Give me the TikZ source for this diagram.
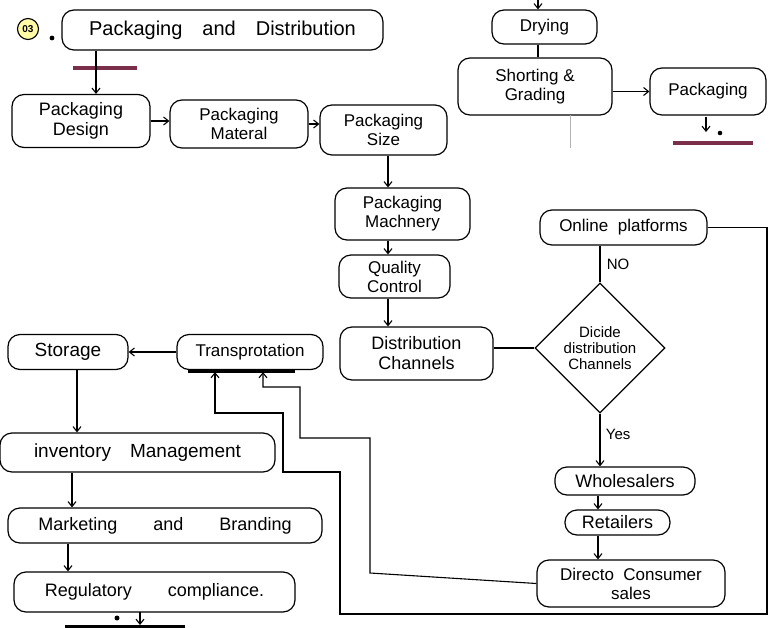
\documentclass[tikz,border=0pt]{standalone}
\usepackage{fontspec}
\setmainfont{Liberation Sans}
\usetikzlibrary{shapes.geometric,arrows.meta}
\definecolor{maroon}{HTML}{7A2E4A}
\newcommand\myfs[2]{\fontsize{#1}{#2}\selectfont}
\begin{document}
\begin{tikzpicture}[x=1pt,y=-1pt,
 box/.style={draw,line width=1.2pt,rounded corners=12pt,align=center,inner sep=1pt,font=\myfs{17}{19}},
 arr/.style={-{Straight Barb[length=5pt,width=8pt]},line width=1.1pt},
 ln/.style={line width=1.1pt},
 lbl/.style={font=\myfs{15}{17}}]
\useasboundingbox (0,0) rectangle (777,627);
% number
\node[circle,draw,line width=1.1pt,fill=yellow!35,inner sep=1pt,minimum size=21,font=\bfseries\myfs{10}{11}] (num) at (28,29) {03};
\fill (52,38) circle (2.4);
% nodes
\node[box,minimum width=321,minimum height=40,font=\myfs{20}{22}] (title) at (222.5,30) {Packaging\quad and\quad Distribution};
\node[box,minimum width=138,minimum height=53,font=\myfs{18}{20}] (pd) at (81,121) {Packaging\\Design};
\node[box,minimum width=138,minimum height=48] (pm) at (239,124) {Packaging\\Materal};
\node[box,minimum width=127,minimum height=50] (ps) at (383.5,130) {Packaging\\Size};
\node[box,minimum width=135,minimum height=52] (mach) at (402.5,214) {Packaging\\Machnery};
\node[box,minimum width=111,minimum height=43] (qc) at (394.5,276.5) {Quality\\Control};
\node[box,minimum width=153,minimum height=53,font=\myfs{18}{20}] (dc) at (416.5,353.5) {Distribution\\Channels};
\node[diamond,draw,line width=1.2pt,minimum width=130,minimum height=130,aspect=1,inner sep=0pt,align=center,font=\myfs{15}{16}] (dec) at (600,348) {Dicide\\distribution\\Channels};
\node[box,minimum width=167,minimum height=35] (online) at (623.5,227.5) {Online\ \ platforms};
\node[box,minimum width=146,minimum height=35,font=\myfs{17}{19}] (trans) at (250,352) {Transprotation};
\node[box,minimum width=120,minimum height=35,font=\myfs{19}{21}] (stor) at (68,352) {Storage};
\node[box,minimum width=275,minimum height=39,font=\myfs{19}{21}] (inv) at (137.5,452.5) {inventory\quad Management};
\node[box,minimum width=314,minimum height=35,font=\myfs{18}{20}] (mb) at (165,525.5) {Marketing\qquad and\qquad Branding};
\node[box,minimum width=281,minimum height=40,font=\myfs{18}{20}] (reg) at (154.5,592) {Regulatory\qquad compliance.};
\node[box,minimum width=140,minimum height=28,font=\myfs{18}{20}] (whole) at (625,481) {Wholesalers};
\node[box,minimum width=105,minimum height=25,font=\myfs{18}{20}] (ret) at (617.5,522.5) {Retailers};
\node[box,minimum width=188,minimum height=47] (dcs) at (631,583.5) {Directo\ \ Consumer\\sales};
\node[box,minimum width=105,minimum height=34] (dry) at (544.5,27) {Drying};
\node[box,minimum width=154,minimum height=57] (sg) at (535,86.5) {Shorting \&\\Grading};
\node[box,minimum width=116,minimum height=47] (pack) at (708,91.5) {Packaging};
% bars
\draw[maroon,line width=4pt] (73,68) -- (137,68);
\draw[maroon,line width=4pt] (673,143) -- (753,143);
\draw[black,line width=3pt] (188,371) -- (295,371);
\draw[black,line width=3pt] (65,626) -- (185,626);
% helper coordinates
\coordinate (x96) at (96,0);
\coordinate (x390) at (388,0);
\coordinate (x598) at (598,0);
\coordinate (x77) at (77,0);
\coordinate (x72) at (72,0);
\coordinate (x68) at (68,0);
\coordinate (x538) at (538,0);
\coordinate (b1) at (215,372);
\coordinate (b2) at (263,372);
\coordinate (top) at (538,0);
% connectors
\draw[arr] (title.south -| x96) -- (pd.north -| x96);
\draw[arr] (pd.east) -- (pd.east -| pm.west);
\draw[arr] (pm.east) -- (pm.east -| ps.west);
\draw[arr] (ps.south -| x390) -- (mach.north -| x390);
\draw[arr] (mach.south -| x390) -- (qc.north -| x390);
\draw[arr] (qc.south -| x390) -- (dc.north -| x390);
\draw[ln] (dc.east |- dec.west) -- (dec.west);
\draw[ln] (dec.north) -- (dec.north |- online.south) node[pos=0.5,right=3pt,lbl] {NO};
\draw[arr] (dec.south) -- (dec.south |- whole.north) node[pos=0.4,right=2pt,lbl] {Yes};
\draw[arr] (whole.south -| x598) -- (ret.north -| x598);
\draw[arr] (ret.south -| x598) -- (dcs.north -| x598);
\draw[arr] (online.east) -- (767,227.5) -- (767,614) -- (340,614) -- (340,472) -- (283,472) -- (283,413) -- (215,413) -- (b1);
\draw[arr] (dcs.west) -- (370,573) -- (370,438) -- (300,438) -- (300,387) -- (263,387) -- (b2);
\draw[arr] (trans.west) -- (stor.east);
\draw[arr] (stor.south -| x77) -- (inv.north -| x77);
\draw[arr] (inv.south -| x72) -- (mb.north -| x72);
\draw[arr] (mb.south -| x68) -- (reg.north -| x68);
\coordinate (r1) at (140,612);
\coordinate (r2) at (140,625);
\draw[arr] (r1) -- (r2);
\fill (117,618) circle (2.5);
\draw[arr] (top) -- (dry.north -| x538);
\draw[ln] (dry.south -| x538) -- (sg.north -| x538);
\draw[arr] (sg.east |- pack.west) -- (pack.west);
\coordinate (p1) at (706,117);
\coordinate (p2) at (706,132);
\draw[arr] (p1) -- (p2);
\fill (720,133) circle (2.3);
\coordinate (g1) at (570,115);
\coordinate (g2) at (570,148);
\draw[gray!60,line width=0.6pt] (g1) -- (g2);
\end{tikzpicture}
\end{document}
